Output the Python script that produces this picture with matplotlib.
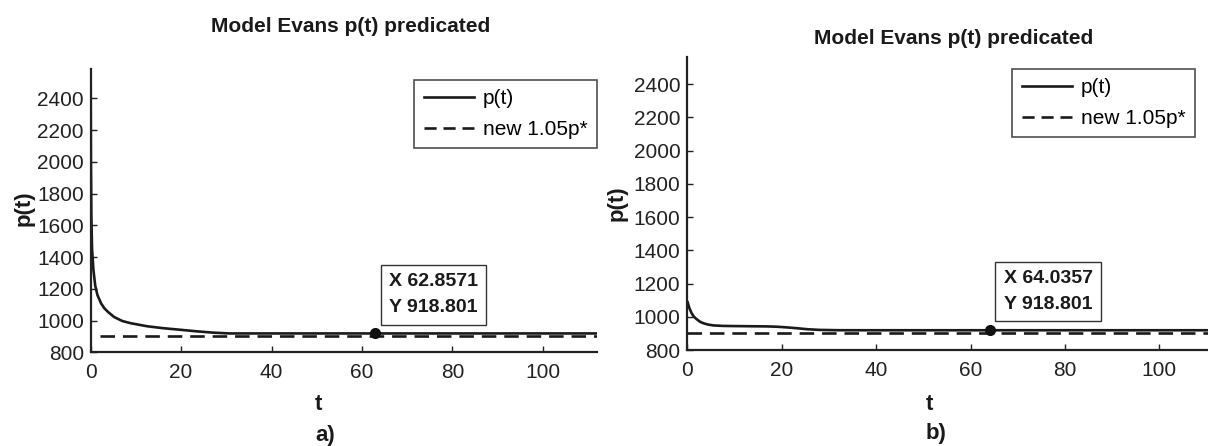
import matplotlib
matplotlib.use("Agg")
import matplotlib.pyplot as plt
from matplotlib import font_manager as fm
from matplotlib.lines import Line2D

names = {f.name for f in fm.fontManager.ttflist}
FONT = 'Liberation Sans Narrow' if 'Liberation Sans Narrow' in names else 'Liberation Sans'
plt.rcParams['font.family'] = [FONT, 'DejaVu Sans']

# ---------------- data ----------------
title = "Model Evans p(t) predicated"
legend_labels = ["p(t)", "new 1.05p*"]
xticks = [0, 20, 40, 60, 80, 100]
yticks = [800, 1000, 1200, 1400, 1600, 1800, 2000, 2200, 2400]

t_a = [0, 0.05, 0.15, 0.3, 0.6, 1.0, 1.5, 2.3, 3.0, 3.8, 5.2, 7.0, 8.9, 12.5,
       16.0, 19.8, 23.5, 27.0, 30.7, 35, 50, 62.8571, 80, 100, 112]
p_a = [2500, 2000, 1650, 1450, 1320, 1220, 1160, 1108, 1078, 1055, 1022, 997, 983, 964,
       952, 942, 932, 924, 918.8, 918.8, 918.8, 918.8, 918.8, 918.8, 918.8]
dash_t_a = [2.1, 112]
dash_p_a = [900, 900]
pt_a = (62.8571, 918.801)

t_b = [0, 0.4, 0.9, 1.4, 2.0, 2.7, 3.4, 4.4, 5.5, 7.5, 9.8, 13.0, 16.8, 19.0,
       21.1, 23.2, 25.4, 28.0, 32.0, 40, 64.0357, 80, 100, 112]
p_b = [1095, 1055, 1022, 1000, 985, 970, 961, 953, 948, 945, 944, 943, 942, 940,
       936, 931, 925, 921, 919, 918.8, 918.8, 918.8, 918.8, 918.8]
dash_t_b = [0, 112]
dash_p_b = [905, 905]
pt_b = (64.0357, 918.801)

W, H = 1208, 446
fig = plt.figure(figsize=(W / 100, H / 100), dpi=100)

def px(x0, y0, x1, y1):
    return [x0 / W, 1 - y1 / H, (x1 - x0) / W, (y1 - y0) / H]

TICK_FS = 15
def setup(ax, ylim_top):
    ax.set_xlim(0, 112)
    ax.set_ylim(800, ylim_top)
    ax.set_xticks(xticks)
    ax.set_yticks(yticks)
    for s in ['top', 'right']:
        ax.spines[s].set_visible(False)
    for s in ['left', 'bottom']:
        ax.spines[s].set_linewidth(1.6)
        ax.spines[s].set_color('#222222')
    ax.tick_params(direction='in', length=4, width=1, labelsize=TICK_FS, colors='#222222')
    ax.tick_params(axis='x', pad=8)
    ax.tick_params(axis='y', pad=5)

def draw(ax, t, p, dt, dp, pt, ann_off, leg_anchor):
    ax.plot(t, p, color='#1a1a1a', lw=1.9, solid_capstyle='butt')
    ax.plot(dt, dp, color='#1a1a1a', lw=1.9, ls=(0, (5.5, 3)))
    ax.plot([pt[0]], [pt[1]], 'o', color='#111111', ms=7)
    ax.annotate("X %.4f\nY %.3f" % (pt[0], pt[1]), xy=pt, xytext=ann_off,
                textcoords='offset pixels', ha='left', va='bottom',
                fontsize=14, fontweight='bold', color='#1a1a1a', linespacing=1.7,
                bbox=dict(boxstyle='square,pad=0.42', fc='white', ec='#333333', lw=1))
    handles = [Line2D([], [], color='#1a1a1a', lw=1.9),
               Line2D([], [], color='#1a1a1a', lw=1.9, ls=(0, (4.6, 2.6)))]
    leg = ax.legend(handles, legend_labels, loc='upper right', bbox_to_anchor=leg_anchor,
                    frameon=True, fancybox=False, fontsize=15, handlelength=2.4,
                    handletextpad=0.45, borderpad=0.45, labelspacing=0.55, borderaxespad=0)
    leg.get_frame().set_edgecolor('#222222')
    leg.get_frame().set_linewidth(1.2)

# left panel
axA = fig.add_axes(px(90.7, 69.3, 597, 352.3))
setup(axA, 2583)
draw(axA, t_a, p_a, dash_t_a, dash_p_a, pt_a, (14, 17), (1.0, 0.962))

# right panel (extends beyond the figure edge like the reference crop)
axB = fig.add_axes(px(687.3, 57.3, 1216, 350))
setup(axB, 2561)
draw(axB, t_b, p_b, dash_t_b, dash_p_b, pt_b, (14, 17), (0.9605, 0.960))

lab = dict(fontsize=15, fontweight='bold', color='#1a1a1a')
fig.text(351 / W, 1 - 27 / H, title, ha='center', va='center', **lab)
fig.text(954 / W, 1 - 39 / H, title, ha='center', va='center', **lab)

ylab = dict(fontsize=16, fontweight='bold', color='#1a1a1a', rotation=90)
fig.text(24 / W, 1 - 208 / H, "p(t)", ha='center', va='center', **ylab)
fig.text(617 / W, 1 - 203 / H, "p(t)", ha='center', va='center', **ylab)

xl = dict(fontsize=16, fontweight='bold', color='#1a1a1a')
fig.text(318 / W, 1 - 405 / H, "t", ha='center', va='center', **xl)
fig.text(929 / W, 1 - 405 / H, "t", ha='center', va='center', **xl)
fig.text(325 / W, 1 - 436 / H, "a)", ha='center', va='center', **xl)
fig.text(936 / W, 1 - 434 / H, "b)", ha='center', va='center', **xl)

fig.savefig("out.png", dpi=100)
